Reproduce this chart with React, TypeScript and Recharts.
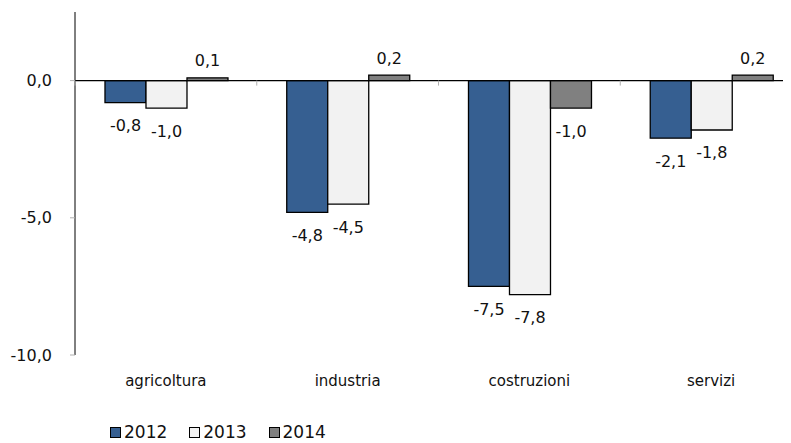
import { Bar, BarChart, LabelList, Legend, ReferenceLine, XAxis, YAxis } from "recharts";

const categories = ["agricoltura", "industria", "costruzioni", "servizi"];
const values2012 = [-0.8, -4.8, -7.5, -2.1];
const values2013 = [-1.0, -4.5, -7.8, -1.8];
const values2014 = [0.1, 0.2, -1.0, 0.2];
const yTicks = [-10, -5, 0];
const yDomain = [-10, 2.5];

const seriesInfo = [
    { key: "y2012", name: "2012", color: "#365F91" },
    { key: "y2013", name: "2013", color: "#F2F2F2" },
    { key: "y2014", name: "2014", color: "#808080" },
];

const data = categories.map((name, i) => ({
    name,
    y2012: values2012[i],
    y2013: values2013[i],
    y2014: values2014[i],
}));

const FONT = "'DejaVu Sans', sans-serif";
const CHART_W = 800;
const CHART_H = 435;
const MARGIN = { top: 4, right: 6, left: 0, bottom: 8 };
const Y_AXIS_W = 67;
const X_AXIS_H = 60;
const LEGEND_H = 20;

// plot geometry, used only for the small category separators on the zero line
const PLOT_W = CHART_W - MARGIN.left - MARGIN.right - Y_AXIS_W;
const PLOT_H = CHART_H - MARGIN.top - MARGIN.bottom - X_AXIS_H - LEGEND_H;
const ZERO_Y = MARGIN.top + (yDomain[1] / (yDomain[1] - yDomain[0])) * PLOT_H;
const BAND = PLOT_W / categories.length;

const fmt = (v: number) => v.toFixed(1).replace(".", ",");

const CategoryTick = (props: any) => {
    const { x, y, payload } = props;
    return (
        <g>
            <line x1={x - BAND / 2} x2={x - BAND / 2} y1={ZERO_Y} y2={ZERO_Y + 5} stroke="#b0b0b0" />
            <text x={x} y={y + 24} textAnchor="middle" dominantBaseline="central" fill="#111" fontSize={15} fontFamily={FONT}>
                {payload.value}
            </text>
        </g>
    );
};

const ValueLabel = (props: any) => {
    const { x, y, width, height, value } = props;
    const top = Math.min(y, y + height);
    const bottom = Math.max(y, y + height);
    const cy = value >= 0 ? top - 17 : bottom + 23;
    return (
        <text x={x + width / 2} y={cy} textAnchor="middle" dominantBaseline="central" fill="#111" fontSize={16} fontFamily={FONT}>
            {fmt(value)}
        </text>
    );
};

const LegendContent = () => (
    <div style={{ display: "flex", alignItems: "center", height: LEGEND_H, fontFamily: FONT, fontSize: 17, color: "#111" }}>
        {seriesInfo.map((s) => (
            <div key={s.key} style={{ display: "flex", alignItems: "center", marginRight: 22 }}>
                <span style={{ width: 9, height: 9, background: s.color, border: "1px solid #000", marginRight: 3 }} />
                <span>{s.name}</span>
            </div>
        ))}
    </div>
);

export default function App() {
    return (
        <div style={{ width: 783, height: CHART_H, overflow: "hidden", fontFamily: FONT }}>
            <BarChart width={CHART_W} height={CHART_H} data={data} margin={MARGIN} barCategoryGap="16.5%" barGap={0}>
                <XAxis
                    dataKey="name"
                    axisLine={false}
                    tickLine={false}
                    tickSize={0}
                    height={X_AXIS_H}
                    interval={0}
                    tick={<CategoryTick />}
                />
                <YAxis
                    width={Y_AXIS_W}
                    domain={yDomain}
                    ticks={yTicks}
                    allowDataOverflow
                    tickFormatter={fmt}
                    tickSize={5}
                    tickMargin={18}
                    axisLine={{ stroke: "#000" }}
                    tickLine={{ stroke: "#b0b0b0" }}
                    tick={{ fill: "#111", fontSize: 16, fontFamily: FONT }}
                />
                {seriesInfo.map((s) => (
                    <Bar key={s.key} dataKey={s.key} name={s.name} fill={s.color} stroke="#000" strokeWidth={1.3} isAnimationActive={false}>
                        <LabelList dataKey={s.key} content={<ValueLabel />} />
                    </Bar>
                ))}
                <ReferenceLine y={0} stroke="#000" strokeWidth={1.2} />
                <Legend
                    verticalAlign="bottom"
                    align="left"
                    content={<LegendContent />}
                    wrapperStyle={{ left: 102, bottom: 1, width: "auto", height: LEGEND_H }}
                />
            </BarChart>
        </div>
    );
}
